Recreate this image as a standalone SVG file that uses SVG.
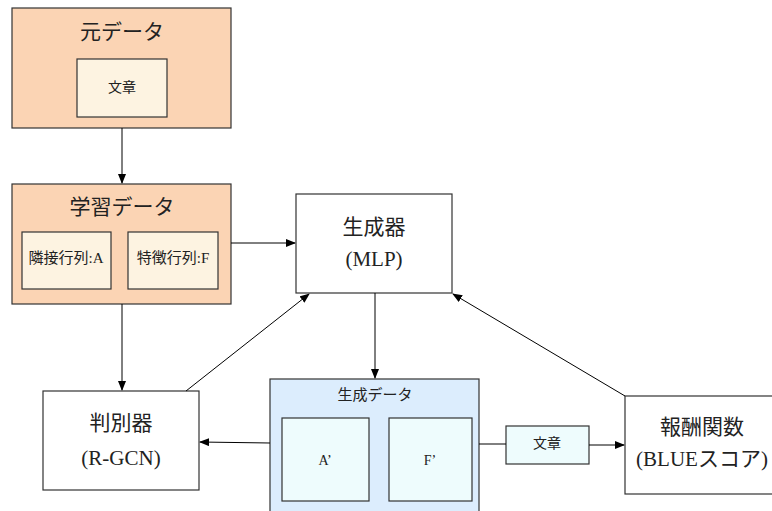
<svg xmlns="http://www.w3.org/2000/svg" width="772" height="511" viewBox="0 0 772 511">
<defs>
<marker id="ah" markerWidth="10" markerHeight="8" refX="9" refY="4" orient="auto" markerUnits="userSpaceOnUse">
<path d="M0,0 L10,4 L0,8 Z" fill="#000"/>
</marker>
<style>
text{font-family:"Liberation Serif","Noto Sans CJK JP",serif;fill:#222;text-anchor:middle;dominant-baseline:central}
.big{font-size:21px}
.sm{font-size:15px}
.xs{font-size:14px}
.box{stroke:#333;stroke-width:1.2}
.org{fill:#fbd4b4}
.crm{fill:#fdf3e1}
.wht{fill:#fff}
.blu{fill:#dcedfd}
.cyn{fill:#eefcfd}
.ln{stroke:#000;stroke-width:1;fill:none}
</style>
</defs>
<rect width="772" height="511" fill="#fff"/>
<g id="moto">
<rect class="box org" x="12" y="8" width="219" height="120"/>
<text class="big" x="122" y="32">元データ</text>
<rect class="box crm" x="77" y="59" width="90" height="58"/>
<text class="xs" x="122" y="87">文章</text>
</g>
<g id="gakushu">
<rect class="box org" x="12" y="184" width="219" height="120"/>
<text class="big" x="122" y="207">学習データ</text>
<rect class="box crm" x="22" y="232" width="89" height="57"/>
<text class="sm" x="66" y="258">隣接行列:A</text>
<rect class="box crm" x="128" y="232" width="90" height="57"/>
<text class="sm" x="173" y="258">特徴行列:F</text>
</g>
<g id="mlp">
<rect class="box wht" x="296" y="194" width="156" height="99"/>
<text class="big" x="374" y="227">生成器</text>
<text class="big" x="374" y="259">(MLP)</text>
</g>
<g id="hanbetsu">
<rect class="box wht" x="43" y="391" width="156" height="99"/>
<text class="big" x="121" y="423">判別器</text>
<text class="big" x="121" y="458">(R-GCN)</text>
</g>
<g id="seisei">
<rect class="box blu" x="270" y="379" width="209" height="140"/>
<text class="sm" x="375" y="395">生成データ</text>
<rect class="box cyn" x="282" y="418" width="87" height="83"/>
<text class="xs" x="325" y="460">A’</text>
<rect class="box cyn" x="389" y="418" width="83" height="83"/>
<text class="xs" x="430" y="460">F’</text>
</g>
<g id="bunsho">
<rect class="box cyn" x="506" y="426" width="83" height="38"/>
<text class="xs" x="547" y="443">文章</text>
</g>
<g id="hoshu">
<rect class="box wht" x="625" y="396" width="156" height="98"/>
<text class="big" x="702" y="427">報酬関数</text>
<text class="big" x="702" y="459">(BLUEスコア)</text>
</g>
<g id="connectors">
<line class="ln" x1="122" y1="128" x2="122" y2="183" marker-end="url(#ah)"/>
<line class="ln" x1="231" y1="243" x2="295" y2="243" marker-end="url(#ah)"/>
<line class="ln" x1="122" y1="304" x2="122" y2="390" marker-end="url(#ah)"/>
<line class="ln" x1="186" y1="391" x2="309" y2="294" marker-end="url(#ah)"/>
<line class="ln" x1="375" y1="293" x2="375" y2="378" marker-end="url(#ah)"/>
<line class="ln" x1="270" y1="443" x2="200" y2="442" marker-end="url(#ah)"/>
<line class="ln" x1="479" y1="444" x2="506" y2="444"/>
<line class="ln" x1="589" y1="445" x2="624" y2="445" marker-end="url(#ah)"/>
<line class="ln" x1="625" y1="396" x2="453" y2="294" marker-end="url(#ah)"/>
</g>
</svg>
